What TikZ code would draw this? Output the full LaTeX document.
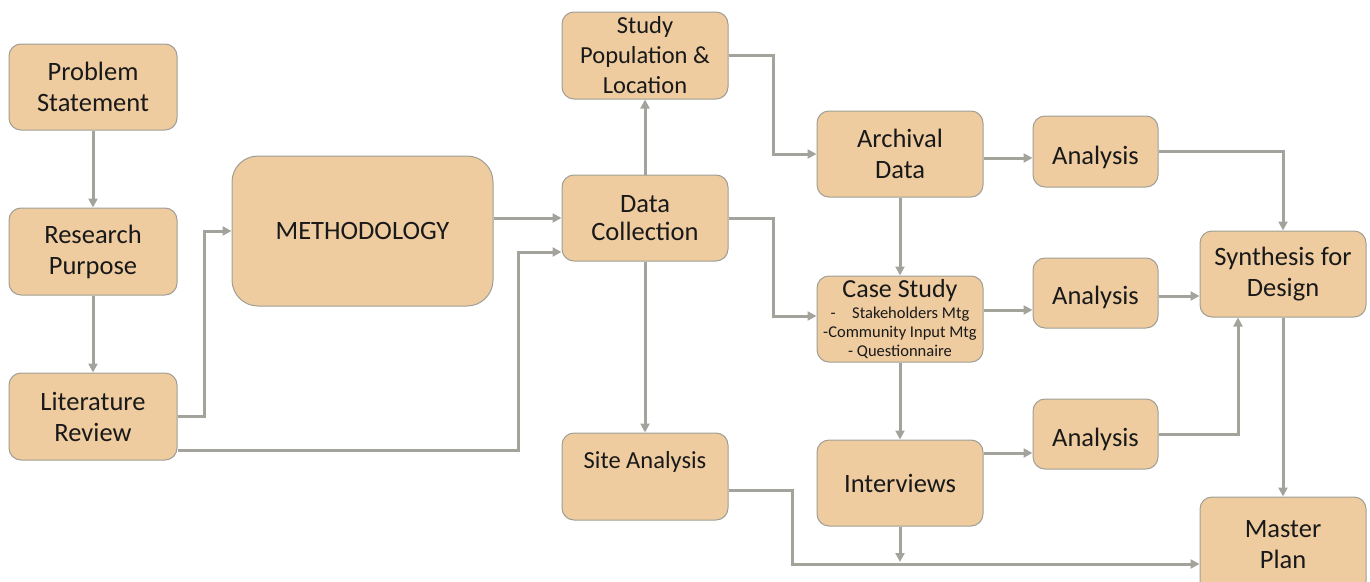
\documentclass[tikz,border=0pt]{standalone}
\usepackage{fontspec}
\setmainfont{Carlito}
\usetikzlibrary{arrows.meta,calc}
\definecolor{boxfill}{RGB}{238,204,160}
\definecolor{boxdraw}{RGB}{160,158,148}
\definecolor{linegray}{RGB}{163,163,156}
\definecolor{txt}{RGB}{25,25,25}
\tikzset{
  box/.style={draw=boxdraw, line width=1pt, fill=boxfill, rounded corners=12pt,
    align=center, inner sep=0pt, text=txt,
    font=\fontsize{26.5}{31}\selectfont},
  conn/.style={draw=linegray, line width=3pt,
    -{Triangle[length=9pt,width=9pt]}}
}
\newcommand{\lowertext}[2]{\raisebox{-#1}[\height][\depth]{#2}}
\begin{document}
\begin{tikzpicture}[x=1pt,y=1pt]
\useasboundingbox (0,0) rectangle (1370,-581);
% nodes
\node[box, minimum width=168pt, minimum height=86pt] (ps) at (93,-87) {Problem\\Statement};
\node[box, minimum width=168pt, minimum height=87pt] (rp) at (93,-251.5) {Research\\Purpose};
\node[box, minimum width=168pt, minimum height=87pt] (lr) at (93,-416.5) {Literature\\Review};
\node[box, minimum width=261pt, minimum height=150pt, rounded corners=26pt] (meth) at (362.5,-231) {METHODOLOGY};
\node[box, minimum width=166pt, minimum height=87pt, font=\fontsize{24.5}{30}\selectfont] (sp) at (645,-55.5) {Study\\Population \&\\Location};
\node[box, minimum width=166pt, minimum height=86pt] (dc) at (645,-218) {Data\\[-3pt]Collection};
\node[box, minimum width=166pt, minimum height=87pt, font=\fontsize{24.5}{31}\selectfont] (sa) at (645,-476.5) {Site Analysis\\[-8pt]\strut};
\node[box, minimum width=166pt, minimum height=86pt] (ad) at (900,-154) {Archival\\Data};
\node[box, minimum width=166pt, minimum height=86pt, font=\fontsize{16.5}{19}\selectfont] (cs) at (900,-319)
  {{\fontsize{26}{26}\selectfont Case Study}\\[2pt]-\quad Stakeholders Mtg\\-Community Input Mtg\\- Questionnaire};
\node[box, minimum width=166pt, minimum height=86pt] (iv) at (900,-483) {Interviews};
\node[box, minimum width=125pt, minimum height=71pt] (an1) at (1095.5,-151.5) {\lowertext{6pt}{Analysis}};
\node[box, minimum width=125pt, minimum height=70pt] (an2) at (1095.5,-293) {\lowertext{4pt}{Analysis}};
\node[box, minimum width=125pt, minimum height=70pt] (an3) at (1095.5,-434) {\lowertext{5pt}{Analysis}};
\node[box, minimum width=166pt, minimum height=86pt] (syn) at (1283,-274) {Synthesis for\\Design};
\node[box, minimum width=166pt, minimum height=96pt] (mp) at (1283,-545) {Master\\Plan};
\coordinate (mpin) at ([yshift=-19pt]mp.west);
% connectors
\draw[conn] (ps) -- (rp);
\draw[conn] (rp) -- (lr);
\draw[conn] (lr.east) -- ++(27,0) |- (meth.west);
\draw[conn] ([yshift=-33.5pt]lr.east) -- ++(341,0) |- ([yshift=-34pt]dc.west);
\draw[conn] (meth.east |- dc.west) -- (dc.west);
\draw[conn] (dc) -- (sp);
\draw[conn] (dc) -- (sa);
\draw[conn] (sp.east) -- ++(45,0) |- (ad.west);
\draw[conn] (dc.east) -- ++(45,0) |- ([yshift=3pt]cs.west);
\draw[conn] (ad) -- (cs);
\draw[conn] (cs) -- (iv);
\draw[conn] ([yshift=-4pt]ad.east) -- ([yshift=-4pt]ad.east -| an1.west);
\draw[conn] ([yshift=9pt]cs.east) -- ([yshift=9pt]cs.east -| an2.west);
\draw[conn] ([yshift=30pt]iv.east) -- ([yshift=30pt]iv.east -| an3.west);
\draw[conn] (an1.east) -| (syn.north);
\draw[conn] ([yshift=-3pt]an2.east) -- ([yshift=-3pt]an2.east -| syn.west);
\draw[conn] (an3.east) -| ([xshift=-45pt]syn.south);
\draw[conn] (syn) -- (mp);
\draw[conn] ([yshift=-13.5pt]sa.east) -- ++(64,0) |- (mpin);
\draw[conn] (iv.south) -- ([yshift=2pt]iv.south |- mpin);
\end{tikzpicture}
\end{document}
